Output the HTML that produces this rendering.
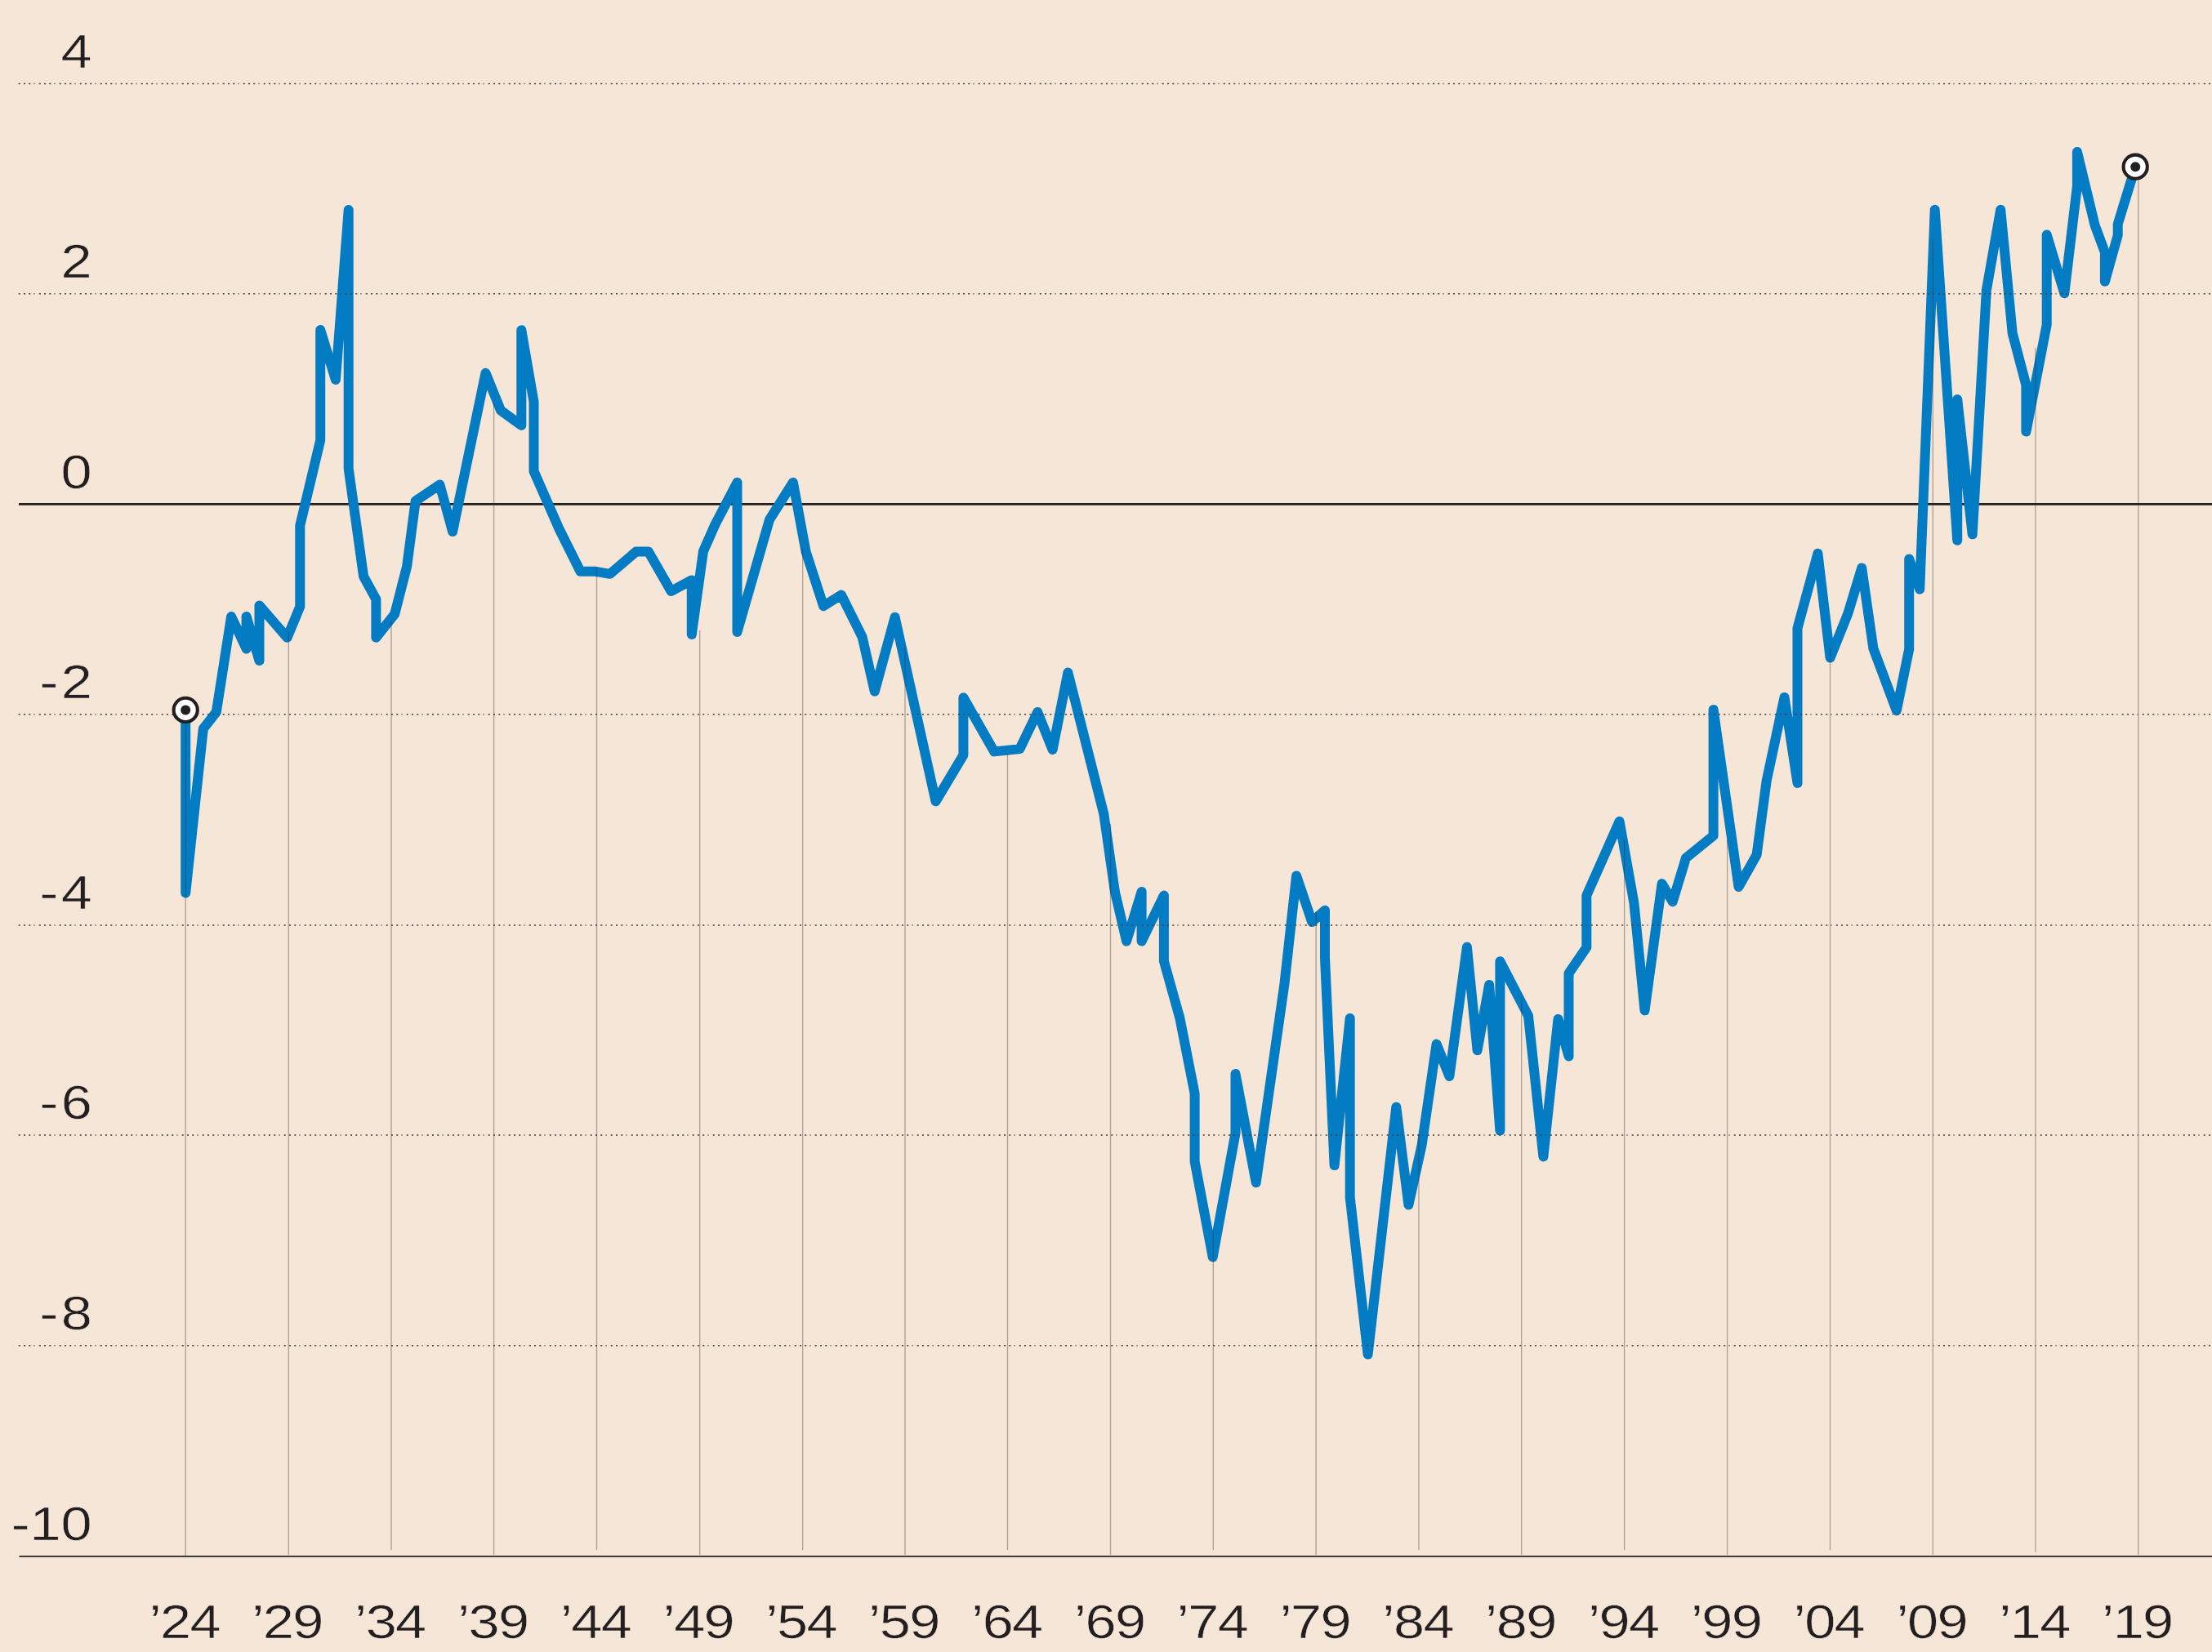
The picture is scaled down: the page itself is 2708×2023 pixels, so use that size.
<!DOCTYPE html>
<html><head><meta charset="utf-8"><title>chart</title>
<style>
html,body{margin:0;padding:0;background:#f5e6d7;}
body{width:2708px;height:2023px;overflow:hidden;}
svg{display:block;}
text{font-family:"Liberation Sans",sans-serif;font-size:57px;fill:#231f20;stroke:#f5e6d7;stroke-width:0.5px;}
</style></head><body>
<svg width="2708" height="2023" viewBox="0 0 2708 2023">
<rect width="2708" height="2023" fill="#f5e6d7"/>
<line x1="23" x2="2708" y1="617.4" y2="617.4" stroke="#231f20" stroke-width="2.6"/>
<line x1="23.5" x2="2708" y1="1905.9" y2="1905.9" stroke="#231f20" stroke-width="1.7"/>
<path d="M227.2,869.4 L227.2,1093.5 L248.8,892.5 L264.8,872.0 L283.1,755.0 L301.6,794.5 L301.6,755.0 L317.5,809.0 L317.5,741.5 L351.6,780.8 L367.3,742.8 L367.3,643.7 L392.2,539.0 L392.2,404.0 L410.9,465.0 L426.7,257.0 L426.7,573.8 L445.1,705.9 L460.4,733.8 L460.4,780.8 L483.2,752.0 L498.1,693.8 L508.7,613.4 L538.4,593.5 L554.1,651.0 L594.5,456.8 L613.1,502.7 L638.3,520.9 L638.3,404.3 L653.5,492.1 L653.5,577.0 L684.8,648.3 L710.5,699.8 L729.3,699.8 L746.9,702.8 L778.6,675.6 L793.8,675.6 L821.6,724.0 L846.8,710.4 L846.8,777.0 L861.0,675.0 L875.5,642.3 L902.5,590.8 L902.5,773.9 L942.1,636.2 L970.9,590.8 L986.6,675.6 L1008.1,742.2 L1029.9,728.5 L1055.6,780.0 L1070.8,846.6 L1095.6,755.8 L1145.5,981.3 L1179.4,924.6 L1179.4,854.3 L1217.2,920.4 L1248.4,917.1 L1270.2,872.0 L1288.6,918.0 L1307.4,823.6 L1351.3,996.7 L1364.9,1092.0 L1379.1,1152.6 L1397.6,1092.0 L1397.6,1152.6 L1424.9,1096.6 L1424.9,1177.0 L1444.4,1246.9 L1462.6,1339.2 L1462.6,1422.4 L1484.7,1539.3 L1512.5,1387.6 L1512.5,1315.0 L1537.7,1448.2 L1572.5,1204.5 L1587.1,1072.4 L1606.2,1129.0 L1622.0,1114.8 L1622.0,1173.0 L1633.6,1427.0 L1652.7,1246.9 L1652.7,1466.3 L1674.6,1658.6 L1709.3,1355.8 L1724.4,1475.4 L1740.5,1402.8 L1758.6,1278.6 L1774.4,1318.0 L1795.9,1159.7 L1808.6,1286.2 L1823.1,1206.0 L1836.4,1384.6 L1836.4,1177.2 L1871.0,1244.0 L1889.4,1416.4 L1907.5,1248.0 L1920.5,1293.4 L1920.5,1192.0 L1942.3,1160.2 L1942.3,1096.6 L1982.6,1005.8 L2000.4,1105.7 L2013.5,1237.4 L2034.6,1082.1 L2047.7,1104.2 L2064.0,1050.6 L2097.6,1023.4 L2097.6,869.0 L2128.5,1086.0 L2150.6,1046.7 L2162.7,955.9 L2184.5,853.9 L2200.5,958.9 L2200.5,769.3 L2225.4,677.8 L2240.6,805.6 L2262.4,751.1 L2279.2,695.4 L2293.4,794.2 L2321.8,870.2 L2337.2,795.0 L2337.2,684.5 L2350.2,721.5 L2368.7,256.8 L2396.2,661.8 L2396.2,489.0 L2414.7,654.3 L2431.9,355.1 L2449.2,256.8 L2463.7,408.1 L2480.4,471.5 L2480.4,528.6 L2505.7,397.5 L2505.7,287.5 L2527.3,359.2 L2542.9,228.0 L2542.9,185.9 L2564.6,275.8 L2576.9,309.0 L2576.9,344.7 L2592.7,288.0 L2592.7,274.4 L2614.2,204.2" fill="none" stroke="#037cc4" stroke-width="12" stroke-linejoin="round" stroke-linecap="round"/>
<line x1="22.7" x2="2708" y1="102.4" y2="102.4" stroke="#47423f" stroke-width="1.5" stroke-dasharray="2.1 4.15 2.1 4.15 2.1 4.15 1.1 5.15"/>
<line x1="22.7" x2="2708" y1="359.7" y2="359.7" stroke="#47423f" stroke-width="1.5" stroke-dasharray="2.1 4.15 2.1 4.15 2.1 4.15 1.1 5.15"/>
<line x1="22.7" x2="2708" y1="874.8" y2="874.8" stroke="#47423f" stroke-width="1.5" stroke-dasharray="2.1 4.15 2.1 4.15 2.1 4.15 1.1 5.15"/>
<line x1="22.7" x2="2708" y1="1132.9" y2="1132.9" stroke="#47423f" stroke-width="1.5" stroke-dasharray="2.1 4.15 2.1 4.15 2.1 4.15 1.1 5.15"/>
<line x1="22.7" x2="2708" y1="1390" y2="1390" stroke="#47423f" stroke-width="1.5" stroke-dasharray="2.1 4.15 2.1 4.15 2.1 4.15 1.1 5.15"/>
<line x1="22.7" x2="2708" y1="1647.8" y2="1647.8" stroke="#47423f" stroke-width="1.5" stroke-dasharray="2.1 4.15 2.1 4.15 2.1 4.15 1.1 5.15"/>
<line x1="227.2" x2="227.2" y1="886" y2="1905" stroke="#3c342c" stroke-opacity="0.4" stroke-width="1.3"/>
<line x1="353.3" x2="353.3" y1="773" y2="1904" stroke="#3c342c" stroke-opacity="0.4" stroke-width="1.3"/>
<line x1="479" x2="479" y1="761" y2="1898" stroke="#3c342c" stroke-opacity="0.4" stroke-width="1.3"/>
<line x1="604.6" x2="604.6" y1="493.6" y2="1904" stroke="#3c342c" stroke-opacity="0.4" stroke-width="1.3"/>
<line x1="730.5" x2="730.5" y1="695" y2="1898" stroke="#3c342c" stroke-opacity="0.4" stroke-width="1.3"/>
<line x1="856.7" x2="856.7" y1="772" y2="1904" stroke="#3c342c" stroke-opacity="0.4" stroke-width="1.3"/>
<line x1="982.7" x2="982.7" y1="671" y2="1898" stroke="#3c342c" stroke-opacity="0.4" stroke-width="1.3"/>
<line x1="1108" x2="1108" y1="793.6" y2="1904" stroke="#3c342c" stroke-opacity="0.4" stroke-width="1.3"/>
<line x1="1233.5" x2="1233.5" y1="922.5" y2="1898" stroke="#3c342c" stroke-opacity="0.4" stroke-width="1.3"/>
<line x1="1359.5" x2="1359.5" y1="1008.8" y2="1904" stroke="#3c342c" stroke-opacity="0.4" stroke-width="1.3"/>
<line x1="1485.3" x2="1485.3" y1="1507" y2="1898" stroke="#3c342c" stroke-opacity="0.4" stroke-width="1.3"/>
<line x1="1611.2" x2="1611.2" y1="1116" y2="1904" stroke="#3c342c" stroke-opacity="0.4" stroke-width="1.3"/>
<line x1="1736.9" x2="1736.9" y1="1389" y2="1898" stroke="#3c342c" stroke-opacity="0.4" stroke-width="1.3"/>
<line x1="1862.7" x2="1862.7" y1="1222.6" y2="1904" stroke="#3c342c" stroke-opacity="0.4" stroke-width="1.3"/>
<line x1="1988.6" x2="1988.6" y1="1028.5" y2="1898" stroke="#3c342c" stroke-opacity="0.4" stroke-width="1.3"/>
<line x1="2114.6" x2="2114.6" y1="1029" y2="1904" stroke="#3c342c" stroke-opacity="0.4" stroke-width="1.3"/>
<line x1="2240.5" x2="2240.5" y1="793.5" y2="1898" stroke="#3c342c" stroke-opacity="0.4" stroke-width="1.3"/>
<line x1="2366.3" x2="2366.3" y1="291.6" y2="1904" stroke="#3c342c" stroke-opacity="0.4" stroke-width="1.3"/>
<line x1="2491.9" x2="2491.9" y1="426" y2="1900.5" stroke="#3c342c" stroke-opacity="0.4" stroke-width="1.3"/>
<line x1="2617.8" x2="2617.8" y1="221" y2="1904" stroke="#3c342c" stroke-opacity="0.4" stroke-width="1.3"/>
<circle cx="227.2" cy="869.4" r="14.6" fill="#fff" stroke="#231f20" stroke-width="4.1"/><circle cx="227.2" cy="869.4" r="6" fill="#231f20"/>
<circle cx="2614.2" cy="204.2" r="14.6" fill="#fff" stroke="#231f20" stroke-width="4.1"/><circle cx="2614.2" cy="204.2" r="6" fill="#231f20"/>
<text class="yl" transform="translate(112.6,82.6) scale(1.2,1)" text-anchor="end">4</text>
<text class="yl" transform="translate(112.6,339.9) scale(1.2,1)" text-anchor="end">2</text>
<text class="yl" transform="translate(112.6,597.6) scale(1.2,1)" text-anchor="end">0</text>
<text class="yl" transform="translate(116.39999999999999,855.0) scale(1.2,1)" text-anchor="end" letter-spacing="3">-2</text>
<text class="yl" transform="translate(116.39999999999999,1113.1) scale(1.2,1)" text-anchor="end" letter-spacing="3">-4</text>
<text class="yl" transform="translate(116.39999999999999,1370.2) scale(1.2,1)" text-anchor="end" letter-spacing="3">-6</text>
<text class="yl" transform="translate(116.39999999999999,1628.0) scale(1.2,1)" text-anchor="end" letter-spacing="3">-8</text>
<text class="yl" transform="translate(112.6,1886.1) scale(1.2,1)" text-anchor="end">-10</text>
<text class="xl" transform="translate(225.7,2006.3) scale(1.2,1)" text-anchor="middle" letter-spacing="-1.3">’24</text>
<text class="xl" transform="translate(351.5,2006.3) scale(1.2,1)" text-anchor="middle" letter-spacing="-1.3">’29</text>
<text class="xl" transform="translate(477.3,2006.3) scale(1.2,1)" text-anchor="middle" letter-spacing="-1.3">’34</text>
<text class="xl" transform="translate(603.2,2006.3) scale(1.2,1)" text-anchor="middle" letter-spacing="-1.3">’39</text>
<text class="xl" transform="translate(729.0,2006.3) scale(1.2,1)" text-anchor="middle" letter-spacing="-1.3">’44</text>
<text class="xl" transform="translate(854.8,2006.3) scale(1.2,1)" text-anchor="middle" letter-spacing="-1.3">’49</text>
<text class="xl" transform="translate(980.6,2006.3) scale(1.2,1)" text-anchor="middle" letter-spacing="-1.3">’54</text>
<text class="xl" transform="translate(1106.4,2006.3) scale(1.2,1)" text-anchor="middle" letter-spacing="-1.3">’59</text>
<text class="xl" transform="translate(1232.3,2006.3) scale(1.2,1)" text-anchor="middle" letter-spacing="-1.3">’64</text>
<text class="xl" transform="translate(1358.1,2006.3) scale(1.2,1)" text-anchor="middle" letter-spacing="-1.3">’69</text>
<text class="xl" transform="translate(1483.9,2006.3) scale(1.2,1)" text-anchor="middle" letter-spacing="-1.3">’74</text>
<text class="xl" transform="translate(1609.7,2006.3) scale(1.2,1)" text-anchor="middle" letter-spacing="-1.3">’79</text>
<text class="xl" transform="translate(1735.6,2006.3) scale(1.2,1)" text-anchor="middle" letter-spacing="-1.3">’84</text>
<text class="xl" transform="translate(1861.4,2006.3) scale(1.2,1)" text-anchor="middle" letter-spacing="-1.3">’89</text>
<text class="xl" transform="translate(1987.2,2006.3) scale(1.2,1)" text-anchor="middle" letter-spacing="-1.3">’94</text>
<text class="xl" transform="translate(2113.0,2006.3) scale(1.2,1)" text-anchor="middle" letter-spacing="-1.3">’99</text>
<text class="xl" transform="translate(2238.8,2006.3) scale(1.2,1)" text-anchor="middle" letter-spacing="-1.3">’04</text>
<text class="xl" transform="translate(2364.7,2006.3) scale(1.2,1)" text-anchor="middle" letter-spacing="-1.3">’09</text>
<text class="xl" transform="translate(2490.5,2006.3) scale(1.2,1)" text-anchor="middle" letter-spacing="-1.3">’14</text>
<text class="xl" transform="translate(2616.3,2006.3) scale(1.2,1)" text-anchor="middle" letter-spacing="-1.3">’19</text>
</svg></body></html>
